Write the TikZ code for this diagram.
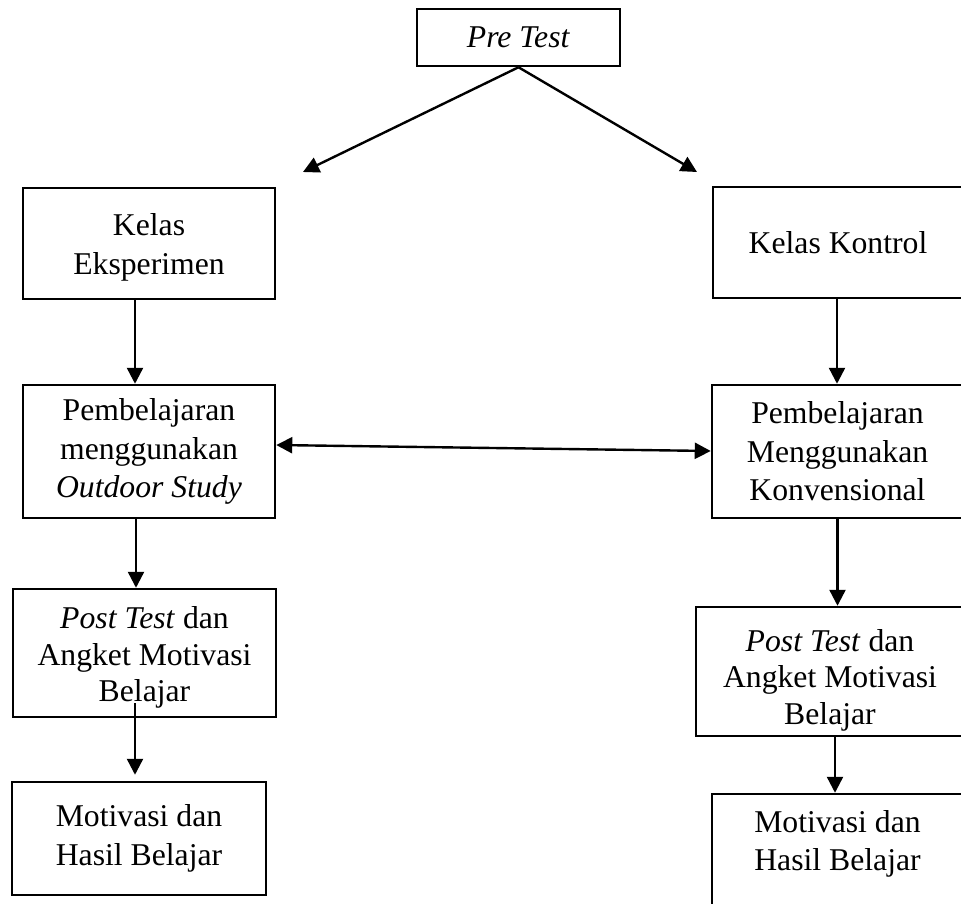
\documentclass[tikz,border=0pt]{standalone}
\usepackage{fontspec}
\setmainfont{Liberation Serif}
\usetikzlibrary{arrows.meta}
\newcommand\tshift[1]{\rule{0pt}{#1}}
\begin{document}
\begin{tikzpicture}[x=1pt,y=-1pt,
  box/.style={draw, line width=2.5pt, align=center, inner sep=0pt, font=\fontsize{31.7}{38.5}\selectfont},
  txt/.style={align=center, inner sep=0pt, font=\fontsize{31.7}{38.5}\selectfont},
  arr/.style={line width=2.4pt, -{Triangle[length=16pt,width=16pt]}},
  dbl/.style={line width=2.4pt, {Triangle[length=16pt,width=16pt]}-{Triangle[length=16pt,width=16pt]}}]
\useasboundingbox (0,0) rectangle (961,903);
% nodes
\node[box, minimum width=203pt, minimum height=57pt] (pre) at (518.5,37.5) {\textit{Pre Test}};
\node[box, minimum width=252pt, minimum height=111pt] (ke) at (149,243.5) {\tshift{29.6pt}Kelas\\Eksperimen};
\node[box, minimum width=250pt, minimum height=111pt] (kk) at (838,242.5) {Kelas Kontrol};
\node[box, minimum width=252pt, minimum height=133pt] (pl) at (149,451.5) {Pembelajaran\\menggunakan\\\textit{Outdoor Study}};
\node[box, minimum width=251pt, minimum height=133pt] (pr) at (837.5,451.5) {Pembelajaran\\Menggunakan\\Konvensional};
\node[box, minimum width=263pt, minimum height=128pt, font=\fontsize{31.7}{36.5}\selectfont] (ptl) at (144.5,653) {\tshift{31.6pt}\textit{Post Test} dan\\Angket Motivasi\\Belajar};
\node[box, minimum width=268pt, minimum height=129pt, font=\fontsize{31.7}{36.5}\selectfont] (ptr) at (830,671.5) {\tshift{39pt}\textit{Post Test} dan\\Angket Motivasi\\Belajar};
\node[box, minimum width=254pt, minimum height=113pt] (ml) at (139,838.5) {Motivasi dan\\Hasil Belajar};
\node[box, minimum width=251pt, minimum height=126pt] (mr) at (837.5,857) {};
\node[txt] (mrt) at (837.5,844) {Motivasi dan\\Hasil Belajar};
% free ends
\coordinate (tl) at (303,172);
\coordinate (tr) at (697,172);
% connectors
\draw[arr] (pre.south) -- (tl);
\draw[arr] (pre.south) -- (tr);
\draw[arr] ([xshift=-14pt]ke.south) -- ([xshift=-14pt]pl.north);
\draw[arr] ([xshift=-1pt]kk.south) -- ([xshift=-1pt]kk.south |- pr.north);
\draw[dbl] ([yshift=6.5pt]pl.east) -- ([yshift=0.5pt]pr.west);
\draw[arr] ([xshift=-13pt]pl.south) -- ([xshift=-13pt]pl.south |- ptl.north);
\draw[arr] (pr.south) -- (pr.south |- ptr.north);
\draw[arr] ([xshift=-9.5pt,yshift=15pt]ptl.south) -- ([xshift=-4pt,yshift=6pt]ml.north);
\draw[arr] ([xshift=5pt]ptr.south) -- ([xshift=5pt]ptr.south |- mr.north);
\end{tikzpicture}
\end{document}
